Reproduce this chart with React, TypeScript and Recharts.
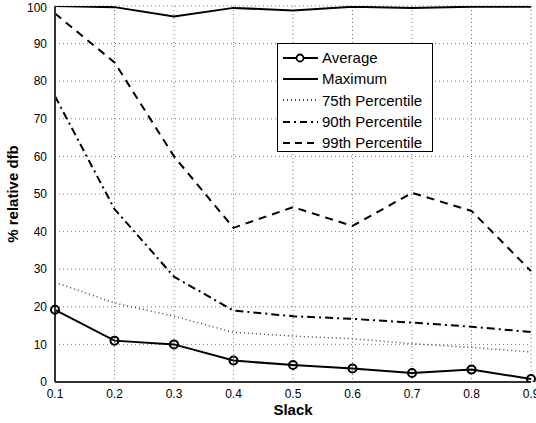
import { LineChart, Line, XAxis, YAxis, CartesianGrid, Label } from 'recharts';

const slack = [0.1, 0.2, 0.3, 0.4, 0.5, 0.6, 0.7, 0.8, 0.9];
const average = [19.2, 11, 10, 5.7, 4.5, 3.6, 2.4, 3.3, 0.8];
const maximum = [100, 99.7, 97.2, 99.5, 98.8, 99.8, 99.5, 99.8, 99.8];
const p75 = [26.5, 21, 17.5, 13.2, 12.2, 11.5, 10.2, 9.2, 8.0];
const p90 = [76, 46, 28, 19, 17.5, 16.8, 15.8, 14.7, 13.3];
const p99 = [98, 85, 60, 41, 46.5, 41.5, 50.3, 45.5, 29.5];
const yTicks = [0, 10, 20, 30, 40, 50, 60, 70, 80, 90, 100];

const data = slack.map((s, i) => ({
  slack: s,
  average: average[i],
  maximum: maximum[i],
  p75: p75[i],
  p90: p90[i],
  p99: p99[i],
}));

const FONT = '"Liberation Sans", Arial, Helvetica, sans-serif';

const legendItems = [
  { name: 'Average', dash: undefined, width: 2, marker: true },
  { name: 'Maximum', dash: undefined, width: 2, marker: false },
  { name: '75th Percentile', dash: '1 3', width: 1.5, marker: false },
  { name: '90th Percentile', dash: '7 4 2 4', width: 2, marker: false },
  { name: '99th Percentile', dash: '7 5', width: 2, marker: false },
];

function LegendBox() {
  return (
    <div
      style={{
        position: 'absolute',
        left: 277,
        top: 43,
        width: 156,
        height: 109,
        border: '1px solid #000',
        background: '#fff',
        fontFamily: FONT,
        fontSize: 15,
        color: '#000',
        boxSizing: 'border-box',
        paddingTop: 3,
      }}
    >
      {legendItems.map((it) => (
        <div key={it.name} style={{ display: 'flex', alignItems: 'center', height: 21.3 }}>
          <svg width={44} height={12} style={{ flexShrink: 0 }}>
            <line x1={5} y1={6} x2={40} y2={6} stroke="#000" strokeWidth={it.width} strokeDasharray={it.dash} />
            {it.marker && <circle cx={22} cy={6} r={3.5} fill="#fff" stroke="#000" strokeWidth={1.8} />}
          </svg>
          <span style={{ marginLeft: 0, whiteSpace: 'nowrap' }}>{it.name}</span>
        </div>
      ))}
    </div>
  );
}

export default function App() {
  return (
    <div style={{ position: 'absolute', left: 0, top: 0, width: 536, height: 423, overflow: 'hidden', background: '#fff' }}>
      <LineChart
        width={560}
        height={423}
        data={data}
        margin={{ top: 6, right: 29, left: 0, bottom: 0 }}
        style={{ fontFamily: FONT }}
      >
        <CartesianGrid stroke="#777" strokeDasharray="1 3" />
        <XAxis
          dataKey="slack"
          type="number"
          domain={[0.1, 0.9]}
          ticks={slack}
          tickFormatter={(v: number) => v.toFixed(1)}
          tick={{ fill: '#000', fontSize: 12 }}
          tickLine={false}
          tickMargin={1}
          axisLine={{ stroke: '#333', strokeWidth: 2 }}
          height={41}
        >
          <Label value="Slack" position="insideBottom" offset={8} style={{ fontWeight: 'bold', fontSize: 15, fill: '#000' }} />
        </XAxis>
        <YAxis
          domain={[0, 100]}
          ticks={yTicks}
          tick={{ fill: '#000', fontSize: 12 }}
          tickLine={false}
          tickMargin={2}
          axisLine={{ stroke: '#333', strokeWidth: 2 }}
          width={55}
          allowDataOverflow
        >
          <Label
            value="% relative dfb"
            angle={-90}
            position="insideLeft"
            offset={13}
            style={{ fontWeight: 'bold', fontSize: 15, fill: '#000', textAnchor: 'middle' }}
          />
        </YAxis>
        <Line
          dataKey="maximum"
          name="Maximum"
          type="linear"
          stroke="#000"
          strokeWidth={2}
          dot={false}
          isAnimationActive={false}
        />
        <Line
          dataKey="p75"
          name="75th Percentile"
          type="linear"
          stroke="#444"
          strokeWidth={1.5}
          strokeDasharray="1 3"
          dot={false}
          isAnimationActive={false}
        />
        <Line
          dataKey="p90"
          name="90th Percentile"
          type="linear"
          stroke="#000"
          strokeWidth={2}
          strokeDasharray="8 4 2 4"
          dot={false}
          isAnimationActive={false}
        />
        <Line
          dataKey="p99"
          name="99th Percentile"
          type="linear"
          stroke="#000"
          strokeWidth={2}
          strokeDasharray="8 6"
          dot={false}
          isAnimationActive={false}
        />
        <Line
          dataKey="average"
          name="Average"
          type="linear"
          stroke="#000"
          strokeWidth={2}
          dot={{ r: 4, fill: 'none', stroke: '#000', strokeWidth: 2 }}
          isAnimationActive={false}
        />
      </LineChart>
      <LegendBox />
    </div>
  );
}
